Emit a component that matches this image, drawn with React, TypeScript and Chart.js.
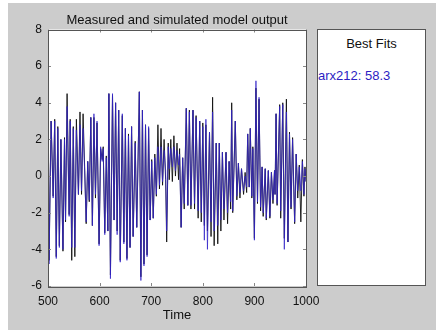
import React, { useEffect, useRef } from "react";
import { Chart, registerables } from "chart.js";

Chart.register(...registerables);

const chartTitle = "Measured and simulated model output";
const xAxisTitle = "Time";
const panelTitle = "Best Fits";
const fitLabel = "arx212: 58.3";

const times = [500,502,506,510,513,516,519,522,525,529,532,534,537,541,543,546,549,552,555,559,562,565,568,571,574,577,580,583,586,589,592,595,599,602,605,607,610,613,616,618,621,625,628,631,634,637,640,644,647,650,653,656,659,662,665,669,672,677,680,683,686,689,692,695,698,701,704,707,710,713,716,719,722,725,728,730,733,735,738,741,744,747,750,753,755,758,761,764,768,771,774,777,781,784,787,791,794,797,800,803,806,809,813,816,819,822,826,829,832,835,838,841,845,848,851,854,856,858,863,866,869,872,875,879,882,885,887,890,892,895,897,900,903,906,909,912,915,917,921,923,927,930,933,936,939,940,942,944,949,951,955,958,962,965,968,971,974,978,981,984,987,990,993,996,998,1000];

const simulated = [7.1,-4.8,3.0,-1.2,3.0,-4.5,2.6,-3.9,2.0,-4.0,2.0,-2.4,3.8,-2.2,3.0,-3.9,2.6,-3.9,2.5,-1.0,2.8,-0.8,2.6,0.3,-2.5,0.8,-1.3,3.2,-2.7,3.4,-1.0,3.0,-3.8,1.6,0.8,1.5,-3.2,1.0,-3.0,4.5,-5.6,4.5,-2.4,4.0,-3.2,3.6,-4.7,3.4,-3.7,2.6,-4.6,2.2,-3.9,2.7,-3.3,1.8,-2.8,4.6,-5.7,3.6,-4.9,2.8,-4.4,2.7,-2.4,0.8,-2.3,1.0,-1.0,1.6,-0.5,1.6,-0.3,1.4,0.3,-3.0,1.6,0.4,1.5,0.5,1.6,0.3,1.4,0.6,1.2,-2.8,1.0,-1.5,3.7,-1.6,3.5,-1.6,3.6,-1.5,3.2,-1.9,3.0,-2.0,2.7,-3.5,3.1,-4.0,2.4,-2.5,3.5,-3.0,1.8,-2.7,1.8,-2.4,1.3,-1.8,1.3,-2.0,0.8,-1.4,3.6,-1.9,3.0,-1.1,0.7,-0.9,0.4,-0.8,0.0,-0.6,2.3,-0.6,2.6,-1.1,1.5,-3.5,5.2,-1.4,4.3,-1.7,0.5,-2.0,0.4,-2.3,0.3,-2.2,0.2,-1.3,0.3,-1.0,3.4,-1.5,3.8,-1.9,3.9,-4.0,3.5,-3.6,2.3,-1.7,2.0,-2.5,1.2,-0.8,0.5,-0.8,0.8,-1.0,0.4,-0.3];

const measured = [6.9,-4.6,3.0,-1.1,3.1,-4.4,2.7,-3.8,2.0,-4.1,2.1,-2.5,4.5,-2.1,3.1,-4.6,2.7,-4.4,3.1,-1.0,3.5,-1.0,3.4,0.5,-2.6,0.8,-1.4,3.2,-2.7,3.2,-1.2,2.9,-3.7,1.5,0.9,1.6,-3.1,1.1,-3.0,4.5,-5.4,4.4,-2.4,4.0,-3.0,3.6,-4.6,3.3,-3.6,2.6,-4.5,2.3,-3.9,2.7,-3.3,1.9,-2.8,4.6,-5.5,3.6,-4.8,2.8,-4.3,2.6,-2.4,0.9,-2.3,1.2,-1.1,2.8,-0.7,2.6,-0.5,2.0,-0.2,-3.6,1.8,-0.2,2.0,-0.3,2.2,0.0,1.8,-0.2,1.5,-2.8,1.0,-1.8,3.7,-1.6,3.6,-1.8,3.6,-1.8,3.3,-2.3,3.0,-2.5,2.9,-2.7,2.8,-3.0,2.4,-3.3,4.3,-3.8,1.8,-3.7,1.8,-3.0,1.3,-2.4,1.3,-2.6,0.8,-1.8,4.0,-2.0,3.0,-1.3,0.7,-1.2,0.4,-1.0,0.2,-0.9,2.3,-0.6,2.6,-1.2,1.6,-3.4,4.8,-1.5,4.2,-1.9,0.5,-2.2,0.4,-2.4,0.3,-2.3,0.2,-1.5,0.3,-1.0,3.4,-1.6,3.9,-2.3,4.0,-3.4,4.2,-3.6,2.4,-1.8,2.1,-2.6,1.2,-1.2,0.6,-2.5,0.9,-1.1,0.5,-0.3];

const xMin = 500;
const xMax = 1000;
const yMin = -6;
const yMax = 8;

const FONT = "'Liberation Sans', Arial, Helvetica, sans-serif";
const BLUE = "rgb(45,30,195)";
const LINE_BLUE = "rgba(50,35,200,0.85)";

const framePlugin = {
  id: "matlabFrame",
  beforeDatasetsDraw(chart: any) {
    const { ctx, chartArea } = chart;
    ctx.save();
    ctx.fillStyle = "#ffffff";
    ctx.fillRect(chartArea.left, chartArea.top, chartArea.right - chartArea.left, chartArea.bottom - chartArea.top);
    ctx.restore();
  },
  afterDatasetsDraw(chart: any) {
    const { ctx, chartArea, scales } = chart;
    const { left, right, top, bottom } = chartArea;
    ctx.save();
    ctx.strokeStyle = "#888888";
    ctx.lineWidth = 1;
    const tl = 3;
    scales.x.ticks.forEach((t: any) => {
      const px = Math.round(scales.x.getPixelForValue(t.value)) + 0.5;
      ctx.beginPath();
      ctx.moveTo(px, bottom);
      ctx.lineTo(px, bottom - tl);
      ctx.moveTo(px, top);
      ctx.lineTo(px, top + tl);
      ctx.stroke();
    });
    scales.y.ticks.forEach((t: any) => {
      const py = Math.round(scales.y.getPixelForValue(t.value)) + 0.5;
      ctx.beginPath();
      ctx.moveTo(left, py);
      ctx.lineTo(left + tl, py);
      ctx.moveTo(right, py);
      ctx.lineTo(right - tl, py);
      ctx.stroke();
    });
    ctx.strokeStyle = "#555555";
    ctx.strokeRect(Math.round(left) + 0.5, Math.round(top) + 0.5, Math.round(right - left), Math.round(bottom - top));
    ctx.fillStyle = "#111111";
    ctx.font = `13px ${FONT}`;
    ctx.textAlign = "center";
    ctx.textBaseline = "middle";
    ctx.fillText(chartTitle, (left + right) / 2, top - 9);
    ctx.fillText(xAxisTitle, (left + right) / 2, bottom + 29);
    ctx.restore();
  },
};

export default function App() {
  const ref = useRef<HTMLCanvasElement | null>(null);

  useEffect(() => {
    if (!ref.current) return;
    const simPts = times.map((t, i) => ({ x: t, y: simulated[i] }));
    const measPts = times.map((t, i) => ({ x: t, y: measured[i] }));
    const chart = new Chart(ref.current, {
      type: "line",
      data: {
        datasets: [
          {
            label: "arx212",
            data: simPts,
            borderColor: LINE_BLUE,
            borderWidth: 0.9,
            pointRadius: 0,
            tension: 0,
          },
          {
            label: "Measured",
            data: measPts,
            borderColor: "#111111",
            borderWidth: 0.9,
            pointRadius: 0,
            tension: 0,
          },
        ],
      },
      options: {
        animation: false,
        responsive: false,
        events: [],
        layout: { padding: { top: 26.5, right: 130, left: 0, bottom: 0 } },
        plugins: {
          legend: { display: false },
          tooltip: { enabled: false },
          title: { display: false },
        },
        scales: {
          x: {
            type: "linear",
            min: xMin,
            max: xMax,
            grid: { display: false, drawTicks: false },
            border: { display: false },
            ticks: {
              stepSize: 100,
              color: "#111111",
              font: { size: 12, family: FONT },
              padding: 8,
              maxRotation: 0,
              callback: (v: any) => String(v),
            },
            afterFit(scale: any) {
              scale.height = 44;
            },
          },
          y: {
            type: "linear",
            min: yMin,
            max: yMax,
            grid: { display: false, drawTicks: false },
            border: { display: false },
            ticks: {
              stepSize: 2,
              color: "#111111",
              font: { size: 12, family: FONT },
              padding: 6,
              callback: (v: any) => String(v),
            },
            afterFit(scale: any) {
              scale.width = 40;
            },
          },
        },
      },
      plugins: [framePlugin],
    });
    return () => chart.destroy();
  }, []);

  return (
    <div
      style={{
        position: "absolute",
        left: 8,
        top: 3,
        width: 428,
        height: 327,
        background: "#cccccc",
        overflow: "hidden",
      }}
    >
      <canvas ref={ref} width={428} height={327} style={{ position: "absolute", left: 0, top: 0 }} />
      <div
        style={{
          position: "absolute",
          left: 309,
          top: 26,
          width: 107,
          height: 255,
          background: "#ffffff",
          border: "1px solid #555555",
          fontFamily: FONT,
          fontSize: 13,
        }}
      >
        <div style={{ textAlign: "center", color: "#111111", marginTop: 6 }}>{panelTitle}</div>
        <div style={{ color: BLUE, marginTop: 17, marginLeft: 0 }}>{fitLabel}</div>
      </div>
    </div>
  );
}
